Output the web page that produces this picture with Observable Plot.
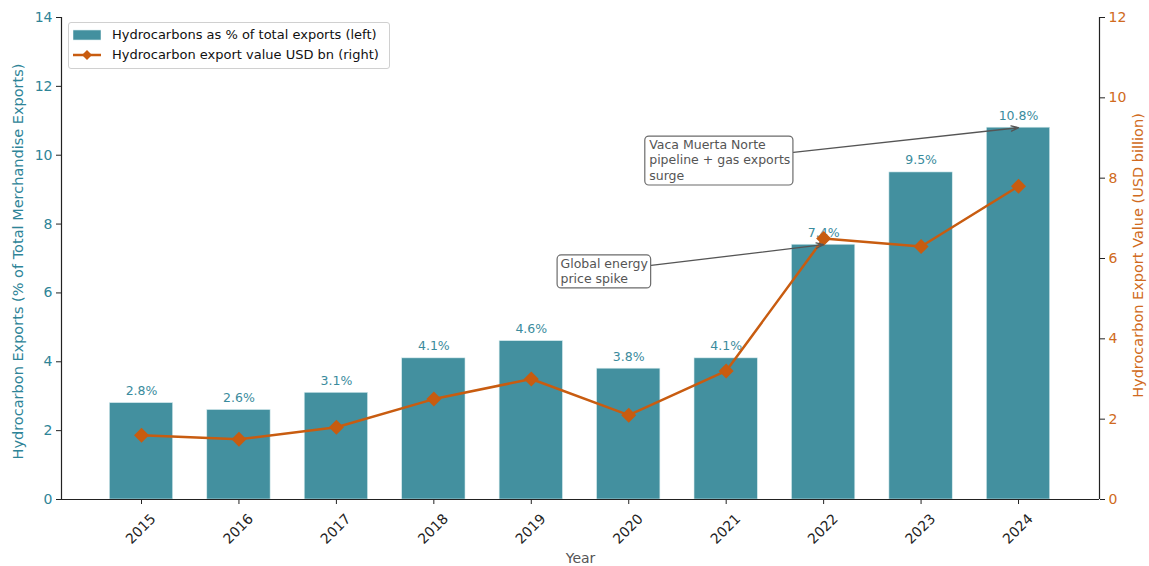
<!DOCTYPE html>
<html>
<head>
<meta charset="utf-8">
<script src="https://cdn.jsdelivr.net/npm/d3@7"></script>
<script src="https://cdn.jsdelivr.net/npm/@observablehq/plot@0.6"></script>
<style>
  html, body { margin: 0; padding: 0; background: #fff; }
  #wrap { position: relative; width: 1149px; height: 566px; font-family: "DejaVu Sans", sans-serif; }
  #legend { position: absolute; left: 68px; top: 22px; width: 320px; height: 45px; border: 1px solid #d0d0d0; border-radius: 3px; background: rgba(255,255,255,0.85); font-size: 13px; color: #111; }
  .row { position: absolute; left: 4px; display: flex; align-items: center; white-space: nowrap; }
  .row svg { margin-right: 11px; }
</style>
</head>
<body>
<div id="wrap">
  <div id="chart"></div>
  <div id="legend"></div>
</div>
<script>
const years = [2015, 2016, 2017, 2018, 2019, 2020, 2021, 2022, 2023, 2024];
const sharePct = [2.8, 2.6, 3.1, 4.1, 4.6, 3.8, 4.1, 7.4, 9.5, 10.8];
const valueUsdBn = [1.6, 1.5, 1.8, 2.5, 3.0, 2.1, 3.2, 6.5, 6.3, 7.8];
const leftTicks = [0, 2, 4, 6, 8, 10, 12, 14];
const rightTicks = [0, 2, 4, 6, 8, 10, 12];
const seriesNames = ["Hydrocarbons as % of total exports (left)", "Hydrocarbon export value USD bn (right)"];
const axisTitles = {x: "Year", left: "Hydrocarbon Exports (% of Total Merchandise Exports)", right: "Hydrocarbon Export Value (USD billion)"};
const annotations = [
  {text: "Vaca Muerta Norte\npipeline + gas exports\nsurge", tx: 2020.21, ty: 10.49, bx1: 2020.17, bx2: 2021.69, by1: 9.12, by2: 10.54, ax: 2021.69, ay: 10.08, px: 2024, py: 10.8},
  {text: "Global energy\nprice spike", tx: 2019.30, ty: 7.04, bx1: 2019.27, bx2: 2020.23, by1: 6.13, by2: 7.09, ax: 2020.23, ay: 6.80, px: 2022, py: 7.4}
];

const LEFT_MAX = 14, RIGHT_MAX = 12;
const k = LEFT_MAX / RIGHT_MAX;
const barHalf = 0.325;

const teal = "#43909f";
const tealText = "#2e8497";
const barLabel = "#3a8b9d";
const orange = "#c85c10";
const orangeText = "#d06a20";

const bars = years.map((y, i) => ({year: y, x1: y - barHalf, x2: y + barHalf, v: sharePct[i], label: sharePct[i].toFixed(1) + "%"}));
const line = years.map((y, i) => ({year: y, v: valueUsdBn[i] * k}));

const chart = Plot.plot({
  width: 1149,
  height: 566,
  marginTop: 17,
  marginRight: 50,
  marginBottom: 67,
  marginLeft: 61,
  style: {fontFamily: "DejaVu Sans, sans-serif", background: "white"},
  x: {type: "linear", domain: [2014.179, 2024.831]},
  y: {domain: [0, LEFT_MAX]},
  marks: [
    Plot.rect(bars, {x1: "x1", x2: "x2", y1: 0, y2: "v", fill: teal, stroke: "#d8ecef", strokeWidth: 0.6}),
    Plot.text(bars, {x: "year", y: "v", text: "label", dy: -8, lineAnchor: "bottom", fill: barLabel, fontSize: 12.5}),
    Plot.line(line, {x: "year", y: "v", stroke: orange, strokeWidth: 2.5}),
    Plot.dot(line, {x: "year", y: "v", symbol: "diamond2", r: 5.8, fill: orange, stroke: orange}),
    Plot.arrow(annotations, {x1: "ax", y1: "ay", x2: "px", y2: "py", stroke: "#555", strokeWidth: 1.3, headLength: 9, headAngle: 40}),
    Plot.rect(annotations, {x1: "bx1", x2: "bx2", y1: "by1", y2: "by2", fill: "white", stroke: "#6b6b6b", strokeWidth: 1.2, rx: 4}),
    Plot.text(annotations, {x: "tx", y: "ty", text: "text", textAnchor: "start", lineAnchor: "top", lineHeight: 1.22, fill: "#555", fontSize: 12.5}),
    Plot.ruleX([2014.179, 2024.831], {stroke: "#222", strokeWidth: 1.2}),
    Plot.ruleY([0], {stroke: "#222", strokeWidth: 1.2}),
    Plot.axisX(years, {anchor: "bottom", tickSize: 5, stroke: "#222", text: null, label: null}),
    Plot.axisX(years, {anchor: "bottom", tickSize: 0, tickPadding: 9, tickRotate: -45, tickFormat: d => String(d), dx: 12, dy: 8, fill: "#222", fontSize: 14, label: null}),
    Plot.text([axisTitles.x], {frameAnchor: "bottom", textAnchor: "middle", lineAnchor: "middle", dy: 59, fill: "#555", fontSize: 14}),
    Plot.axisY(leftTicks, {anchor: "left", tickSize: 5, tickPadding: 4, stroke: "#222", fill: tealText, fontSize: 14, label: null}),
    Plot.text([axisTitles.left], {frameAnchor: "left", textAnchor: "middle", lineAnchor: "middle", rotate: -90, dx: -43, dy: 3, fill: tealText, fontSize: 14.5}),
    Plot.axisY(rightTicks.map(t => t * k), {anchor: "right", tickFormat: d => String(Math.round(d / k)), tickSize: 5, tickPadding: 4, stroke: "#222", fill: orangeText, fontSize: 14, label: null}),
    Plot.text([axisTitles.right], {frameAnchor: "right", textAnchor: "middle", lineAnchor: "middle", rotate: -90, dx: 39, dy: -3, fill: orangeText, fontSize: 14.5})
  ]
});
document.getElementById("chart").appendChild(chart);

const legend = document.getElementById("legend");
legend.innerHTML = `
  <div class="row" style="top:4px"><svg width="28" height="12"><rect x="0" y="1" width="28" height="10" fill="${teal}" stroke="#d8ecef" stroke-width="0.6"/></svg><span>${seriesNames[0]}</span></div>
  <div class="row" style="top:24px"><svg width="28" height="14"><line x1="0" y1="7" x2="28" y2="7" stroke="${orange}" stroke-width="2.5"/><path d="M14 2 L19 7 L14 12 L9 7 Z" fill="${orange}"/></svg><span>${seriesNames[1]}</span></div>`;
</script>
</body>
</html>
